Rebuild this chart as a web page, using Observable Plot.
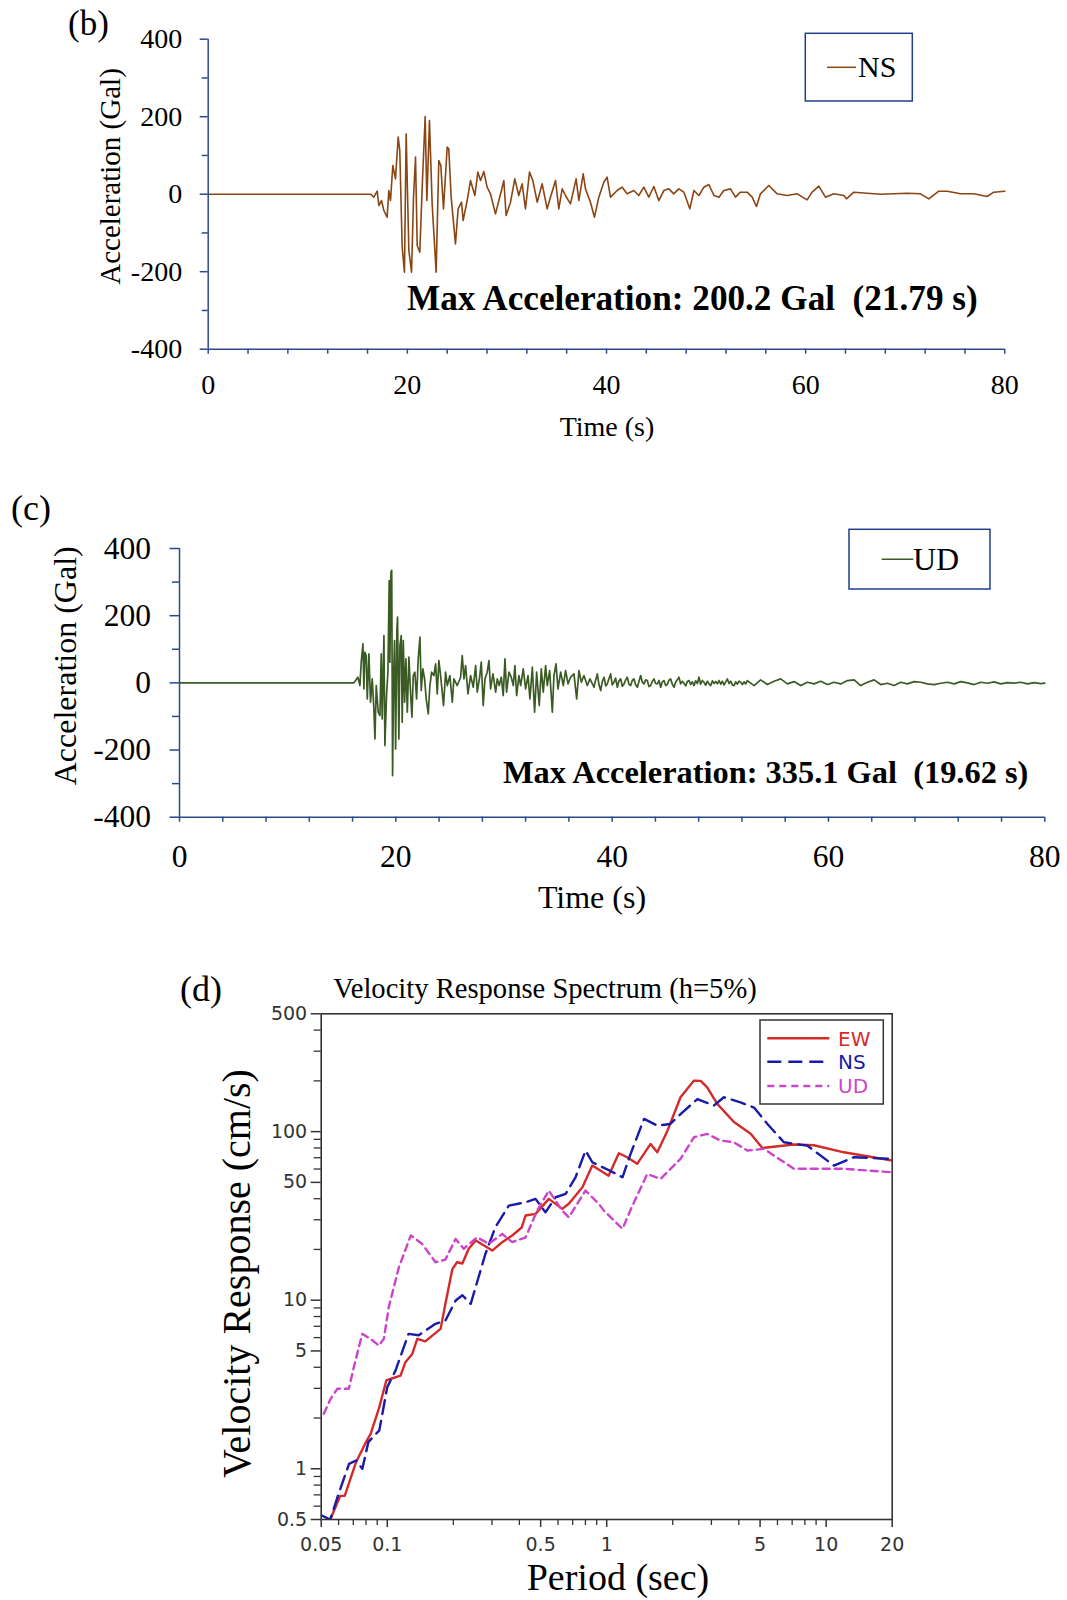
<!DOCTYPE html>
<html><head><meta charset="utf-8">
<script src="https://cdn.jsdelivr.net/npm/d3@7"></script>
<script src="https://cdn.jsdelivr.net/npm/@observablehq/plot@0.6"></script>
<style>
body{margin:0;background:#fff;}
#root{position:relative;width:1067px;height:1600px;overflow:hidden;background:#fff;}
#root svg{position:absolute;left:0;}
</style></head><body><div id="root"></div>
<script>
// ---------------- DATA ----------------
// (b) NS acceleration record
const nsTime = [0,16.30,16.63,16.97,17.14,17.40,17.64,17.97,18.14,18.31,18.54,18.81,19.08,19.24,19.48,19.71,19.88,20.15,20.42,20.62,20.82,20.99,21.25,21.49,21.79,21.96,22.22,22.49,22.89,23.16,23.36,23.63,24.00,24.16,24.40,24.83,25.10,25.44,25.60,26.01,26.34,26.78,27.08,27.35,27.68,28.01,28.35,28.85,29.45,29.69,29.92,30.36,30.79,31.19,31.53,31.86,32.27,32.60,33.04,33.54,34.04,34.37,34.88,35.21,35.55,35.88,36.38,36.95,37.22,37.66,37.89,38.39,38.79,39.23,39.73,40.06,40.40,41.07,41.57,42.07,42.74,43.24,43.75,44.25,44.75,45.25,45.76,46.26,46.76,47.26,47.77,48.37,48.78,49.28,49.78,50.28,50.79,51.29,51.79,52.45,52.95,53.45,54.12,54.63,55.06,55.46,56.30,57.14,58.14,59.15,60.15,60.65,61.32,61.99,62.83,63.83,64.10,64.84,66.18,67.51,68.85,70.19,71.53,72.37,73.37,74.21,75.55,76.89,78.22,78.89,80.00];
const nsAcc = [0,0,-7.7,7.8,-29.2,-16.3,-42.1,-59.3,9.5,-16.3,74.1,39.7,147.2,112.8,-136.7,-201.2,155.8,-145.3,-201.2,-7.7,95.6,-132.4,-149.6,18.1,200.2,-16.3,190.2,-24.9,-201.2,87.0,74.1,-37.8,121.4,117.1,-7.7,-128.1,-37.8,-20.6,-67.9,-16.3,35.4,-3.4,56.9,35.4,58.6,18.1,1.0,-50.7,9.5,35.4,-55.0,-20.6,39.7,-3.4,26.8,-37.8,56.9,35.4,-20.6,26.8,-37.8,-7.7,35.4,-37.8,13.8,-3.4,-24.9,39.7,-16.3,52.6,13.8,-20.6,-59.3,-7.7,31.0,44.0,-7.7,9.5,18.1,1.0,9.5,-3.4,18.1,-7.7,19.9,-16.3,9.5,13.8,1.0,13.8,5.2,-37.8,9.5,-3.4,18.1,25.0,-3.4,-7.7,9.5,13.8,-7.7,5.2,5.2,-7.7,-31.7,1.0,22.5,1.0,-3.4,1.0,-14.5,5.2,20.7,-7.7,1.0,-3.4,-12.0,5.2,2.6,-0.2,1.0,2.6,1.0,-12.0,7.8,7.8,1.0,1.0,-5.9,5.2,7.8];

// (c) UD acceleration record
const udTime = [0,16.12,16.28,16.49,16.68,16.80,16.96,17.05,17.14,17.26,17.36,17.51,17.66,17.82,17.97,18.07,18.19,18.37,18.53,18.65,18.74,18.90,18.99,19.14,19.27,19.39,19.45,19.55,19.62,19.70,19.79,19.88,19.98,20.10,20.16,20.28,20.38,20.50,20.59,20.69,20.81,20.93,21.06,21.21,21.36,21.49,21.61,21.76,21.92,22.07,22.23,22.35,22.50,22.66,22.81,23.00,23.15,23.31,23.52,23.68,23.83,23.98,24.14,24.41,24.60,24.76,25.00,25.22,25.37,25.68,25.99,26.14,26.30,26.45,26.67,26.91,27.16,27.38,27.53,27.75,27.90,28.08,28.24,28.45,28.61,28.76,28.98,29.23,29.38,29.56,29.75,29.93,30.09,30.24,30.46,30.67,30.86,31.01,31.17,31.38,31.54,31.78,32.00,32.22,32.40,32.62,32.83,33.02,33.26,33.45,33.63,33.85,34.00,34.22,34.47,34.62,34.81,34.99,35.24,35.48,35.70,35.92,36.16,36.47,36.72,36.93,37.15,37.39,37.70,37.95,
  38.32,38.47,38.63,38.78,38.94,39.09,39.25,39.40,39.55,39.70,39.86,40.01,40.17,40.32,40.48,40.63,40.79,40.94,41.10,41.25,41.40,41.55,41.71,41.86,42.02,42.17,42.33,42.48,42.64,42.79,42.94,43.10,43.25,43.40,43.56,43.71,43.87,44.02,44.18,44.33,44.49,44.64,44.79,44.95,45.10,45.25,45.41,45.56,45.72,45.87,46.03,46.18,46.33,46.49,46.64,46.80,46.95,47.11,47.26,47.41,47.57,47.72,47.88,48.03,48.18,48.34,48.49,48.65,48.80,48.96,49.11,49.27,49.42,49.58,49.73,49.88,50.04,50.19,50.34,50.50,50.65,50.81,50.96,51.12,51.27,51.42,51.58,51.73,51.88,52.04,52.19,52.35,52.50,
  53.12,53.73,54.35,54.97,55.58,56.20,56.82,57.43,58.05,58.67,59.28,59.90,60.52,61.13,61.75,62.37,62.98,63.60,64.22,64.83,65.45,66.07,66.68,67.30,67.92,68.53,69.15,69.77,70.38,71.00,71.62,72.23,72.85,73.46,74.08,74.70,75.31,75.93,76.55,77.16,77.78,78.40,79.01,79.63,80.00];
const udAcc = [0,0,6.9,16.8,-8.0,61.5,116.0,-18.0,91.2,81.3,-47.7,86.3,-57.7,11.8,-77.5,-166.9,-8.0,-87.4,-97.4,86.3,-107.3,140.9,-186.7,-37.8,31.7,304.7,61.5,329.5,335.1,-276.0,11.8,126.0,-196.6,160.7,195.5,-166.9,111.1,140.9,-117.2,126.0,-57.7,71.4,-87.4,76.4,-27.9,-102.3,21.7,31.7,-47.7,71.4,135.9,-22.9,41.6,11.8,-47.7,-92.4,-8.0,31.7,21.7,56.5,-32.8,66.4,21.7,-67.6,31.7,-8.0,21.7,-57.7,11.8,-8.0,16.8,81.3,11.8,51.5,-32.8,21.7,-13.0,51.5,-27.9,16.8,61.5,-67.6,11.8,31.7,66.4,-18.0,26.7,-27.9,11.8,-8.0,16.8,-37.8,71.4,-27.9,31.7,16.8,-8.0,51.5,-37.8,21.7,-8.0,41.6,-18.0,21.7,-47.7,46.6,-87.4,31.7,-67.6,41.6,-27.9,51.5,-8.0,36.6,-87.4,21.7,56.5,-18.0,31.7,-8.0,36.6,-3.1,16.8,26.7,-47.7,36.6,1.9,21.7,-8.0,11.8,
  -13.1,8,26.6,-5,-23.0,4,16.7,-9,-3.1,12,26.6,-6,1.8,14,-13.1,6,11.7,-10,-3.1,9,16.7,-4,-8.1,7,11.7,-6,-13.1,4,21.7,2,-3.1,9,6.8,-11,-8.1,5,11.7,-2,-3.1,7,-13.1,3,6.8,-8,-5.1,8,11.7,-4,-13.1,2,9,16.7,-3,5,-1.1,-9,4,6.8,-5,3,-8.1,6,-2,16.7,-4,7,1.8,-7,5,-3,-8.1,6,-2,4,-3.1,7,-4,4.8,-6,3,11.7,-2,5,-6,-8.1,3,-4,5,1.8,-5,3,-3,6.8,
  -8.1,8.8,-5.1,4.8,11.8,-3.1,3.8,-8.1,1.8,-3.1,4.8,-5.1,1.8,-3.1,6.8,8.8,-8.1,1.8,8.8,-5.1,-1.1,-8.1,1.8,-3.1,3.8,1.8,-3.1,-5.1,-1.1,1.8,-3.1,3.8,-0.2,-5.1,1.8,-1.1,2.8,-3.1,0.9,-1.1,1.8,-3.1,0.9,-2.1,-1.0];

// (d) velocity response spectra (h=5%)
const ewPeriod = [0.055,0.061,0.064,0.072,0.080,0.084,0.092,0.099,0.104,0.115,0.121,0.130,0.137,0.149,0.175,0.184,0.198,0.208,0.220,0.235,0.253,0.301,0.334,0.371,0.410,0.427,0.474,0.545,0.627,0.672,0.775,0.860,1.020,1.136,1.240,1.377,1.585,1.700,1.890,2.170,2.500,2.680,2.870,3.190,3.800,4.530,5.120,7.130,8.790,12.05,20];
const ewVel = [0.50,0.69,0.69,1.09,1.44,1.61,2.32,3.34,3.42,3.57,4.29,4.80,5.90,5.70,6.76,9.5,15.3,16.8,16.5,20.2,22.6,19.7,22.1,24.2,27.0,31.8,32.5,39.9,34.8,37.3,46.8,62.9,54.8,74.4,70.5,64.4,84.5,75.4,101,160,200.8,200,183,146,114,97,80,83.8,83,75.4,67.4];
const nsPeriod = [0.050,0.055,0.060,0.067,0.072,0.077,0.082,0.092,0.100,0.109,0.125,0.139,0.166,0.184,0.205,0.220,0.240,0.280,0.311,0.358,0.427,0.474,0.526,0.585,0.650,0.721,0.801,0.860,1.030,1.180,1.285,1.480,1.700,1.950,2.170,2.590,3.080,3.420,4.070,4.690,5.400,6.420,8.200,10.85,13.40,20];
const nsVel = [0.53,0.50,0.71,1.07,1.12,1.00,1.44,1.69,3.05,3.82,6.31,6.2,7.24,7.57,9.95,10.7,9.5,18.8,27.1,36.4,38.1,39.9,33.2,40.8,42.7,53.6,77.2,65.8,58.8,53.6,73.8,119,108.6,111,127,156,142.7,160,149,139,111,86.5,82.6,62.9,70.5,68.9];
const udPeriod = [0.0514,0.0552,0.0592,0.0668,0.0704,0.0769,0.0839,0.0915,0.0965,0.1016,0.113,0.128,0.144,0.166,0.184,0.205,0.223,0.257,0.290,0.334,0.371,0.427,0.482,0.545,0.627,0.672,0.800,0.920,0.971,1.180,1.300,1.530,1.760,2.170,2.500,2.870,3.300,3.800,4.370,5.200,7.130,12.05,20];
const udVel = [2.12,2.6,2.98,2.98,4.0,6.31,5.9,5.38,5.9,9.1,15.7,24.2,21.6,16.8,17.4,23.1,20.2,23.6,21.6,24.7,22.1,23.6,34.0,44.7,34.0,31.0,44.7,37.3,34.0,26.5,35.6,56,52.4,68.9,92.6,97,88.5,86.5,77.2,79,60.2,60.2,57.4];

// tick values and labels
const accTicksMajor = [-400,-200,0,200,400];
const accTicksMinor = [-300,-100,100,300];
const timeTicksMajor = [0,20,40,60,80];
const timeTicksMinor = [0,4,8,12,16,20,24,28,32,36,40,44,48,52,56,60,64,68,72,76,80];
const periodTicksMajor = [0.05,0.1,0.5,1,5,10,20];
const periodTicksMinor = [0.06,0.07,0.08,0.09,0.2,0.3,0.4,0.6,0.7,0.8,0.9,2,3,4,6,7,8,9];
const velTicksMajor = [0.5,1,5,10,50,100,500];
const velTicksMinor = [0.6,0.7,0.8,0.9,2,3,4,6,7,8,9,20,30,40,60,70,80,90,200,300,400];
const spectrumSeries = ["EW","NS","UD"];

// ---------------- STYLE ----------------
const serif = "'Liberation Serif','Times New Roman',serif";
const sans = "'DejaVu Sans',Arial,sans-serif";
const axisBlue = "#2b4a8e";
const nsColor = "#8b4513";
const udColor = "#3b5b24";
const specColors = {EW:"#d42a2a", NS:"#1a1aa8", UD:"#cc44cc"};
const specDash = {EW:null, NS:"14,7", UD:"7,5"};

const root = document.getElementById("root");
const fmt = d => String(d);

function accelPlot(data, color, o) {
  const svg = Plot.plot({
    width: 1067, height: o.height,
    marginLeft: o.left, marginRight: 1067 - o.right, marginTop: o.top, marginBottom: o.height - o.bottom,
    x: {domain: [0, 80], label: null},
    y: {domain: [-400, 400], label: null},
    style: {fontFamily: serif, fontSize: o.font + "px", color: "#000", background: "transparent", overflow: "visible"},
    marks: [
      Plot.line(data, {x: "t", y: "a", stroke: color, strokeWidth: o.lw}),
      Plot.ruleX([0], {stroke: axisBlue, strokeWidth: 1.5}),
      Plot.ruleY([-400], {stroke: axisBlue, strokeWidth: 1.5}),
      Plot.axisY(accTicksMajor, {tickSize: o.major, tickPadding: o.yPad, stroke: axisBlue, strokeWidth: 1.5, tickFormat: fmt, label: null, fill: "#000"}),
      Plot.axisY(accTicksMinor, {tickSize: o.minor, stroke: axisBlue, strokeWidth: 1.5, fill: "none", label: null}),
      Plot.axisX(timeTicksMinor, {tickSize: 5, stroke: axisBlue, strokeWidth: 1.5, fill: "none", label: null}),
      Plot.text(timeTicksMajor, {x: d => d, text: fmt, frameAnchor: "bottom", dy: o.xPad, lineAnchor: "top", fill: "#000"})
    ]
  });
  svg.style.top = o.y0 + "px";
  root.appendChild(svg);
}

accelPlot(nsTime.map((t, i) => ({t, a: nsAcc[i]})), nsColor,
  {y0: 0, height: 450, left: 207.7, right: 1004.3, top: 38.7, bottom: 348.7, font: 28, major: 8, minor: 6, yPad: 18, xPad: 25, lw: 1.6});
accelPlot(udTime.map((t, i) => ({t, a: udAcc[i]})), udColor,
  {y0: 450, height: 470, left: 179, right: 1044.3, top: 98, bottom: 366.7, font: 31.5, major: 9.5, minor: 7, yPad: 19, xPad: 27, lw: 1.7});

// spectrum
const specData = [];
ewPeriod.forEach((T, i) => specData.push({series: "EW", T, V: ewVel[i]}));
nsPeriod.forEach((T, i) => specData.push({series: "NS", T, V: nsVel[i]}));
udPeriod.forEach((T, i) => specData.push({series: "UD", T, V: udVel[i]}));

const spec = Plot.plot({
  width: 1067, height: 680,
  marginLeft: 320.7, marginRight: 1067 - 891.7, marginTop: 93.3, marginBottom: 81,
  x: {type: "log", domain: [0.05, 20], label: null},
  y: {type: "log", domain: [0.5, 500], label: null},
  style: {fontFamily: sans, fontSize: "19px", color: "#333", background: "transparent", overflow: "visible"},
  marks: [
    ...spectrumSeries.map(s => Plot.line(specData.filter(d => d.series === s), {
      x: "T", y: "V", stroke: specColors[s], strokeWidth: 2.4, strokeDasharray: specDash[s], clip: true
    })),
    Plot.frame({stroke: "#333", strokeWidth: 1.6}),
    Plot.axisY(velTicksMajor, {tickSize: 10, tickPadding: 4, stroke: "#333", strokeWidth: 1.5, tickFormat: fmt, label: null, fill: "#333"}),
    Plot.axisY(velTicksMinor, {tickSize: 7, stroke: "#333", strokeWidth: 1.3, fill: "none", label: null}),
    Plot.axisX(periodTicksMajor, {tickSize: 8, stroke: "#333", strokeWidth: 1.5, fill: "none", label: null}),
    Plot.axisX(periodTicksMinor, {tickSize: 6, stroke: "#333", strokeWidth: 1.3, fill: "none", label: null}),
    Plot.text(periodTicksMajor, {x: d => d, text: fmt, frameAnchor: "bottom", dy: 18, lineAnchor: "top", fill: "#333"})
  ]
});
spec.style.top = "920px";
root.appendChild(spec);

// ---------------- ANNOTATION OVERLAY ----------------
const ov = d3.create("svg").attr("width", 1067).attr("height", 1600)
  .style("top", "0px").style("pointer-events", "none");
function txt(x, y, s, o = {}) {
  return ov.append("text").attr("x", x).attr("y", y).text(s)
    .attr("font-family", o.family || serif).attr("font-size", o.size || 28)
    .attr("font-weight", o.weight || "normal").attr("fill", o.fill || "#000")
    .attr("text-anchor", o.anchor || "start").attr("xml:space", "preserve").style("white-space", "pre");
}
function vtxt(cx, cy, s, size) {
  ov.append("text").attr("transform", `translate(${cx},${cy}) rotate(-90)`)
    .attr("text-anchor", "middle").attr("dominant-baseline", "central")
    .attr("font-family", serif).attr("font-size", size).attr("fill", "#000").text(s);
}
function legendBox(x, y, w, h, stroke) {
  ov.append("rect").attr("x", x).attr("y", y).attr("width", w).attr("height", h)
    .attr("fill", "#fff").attr("stroke", stroke).attr("stroke-width", 1.5);
}
function legendLine(x1, x2, y, color, width, dash) {
  ov.append("line").attr("x1", x1).attr("x2", x2).attr("y1", y).attr("y2", y)
    .attr("stroke", color).attr("stroke-width", width).attr("stroke-dasharray", dash || null);
}

// panel (b)
txt(68, 35, "(b)", {size: 35});
vtxt(110, 176.5, "Acceleration (Gal)", 29);
txt(607, 436, "Time (s)", {size: 28, anchor: "middle"});
txt(407, 310, "Max Acceleration: 200.2 Gal  (21.79 s)", {size: 35.2, weight: "bold"});
legendBox(805.3, 33.3, 107, 67.7, "#1f3f8a");
legendLine(827, 856, 67.3, nsColor, 1.5);
txt(858, 77, "NS", {size: 30});

// panel (c)
txt(11, 520, "(c)", {size: 36});
vtxt(65, 665.8, "Acceleration (Gal)", 32);
txt(592, 908, "Time (s)", {size: 32, anchor: "middle"});
txt(503, 783, "Max Acceleration: 335.1 Gal  (19.62 s)", {size: 32.4, weight: "bold"});
legendBox(849, 529.3, 141, 59.7, "#1f3f8a");
legendLine(881.7, 913.3, 559.3, udColor, 1.5);
txt(913, 570, "UD", {size: 32});

// panel (d)
txt(180, 1001, "(d)", {size: 36});
txt(545, 998, "Velocity Response Spectrum (h=5%)", {size: 28.6, anchor: "middle"});
vtxt(236, 1273.5, "Velocity Response (cm/s)", 40);
txt(618, 1590, "Period (sec)", {size: 38, anchor: "middle"});
legendBox(760, 1020, 123.3, 84, "#333");
const legY = {EW: 1038.3, NS: 1061.7, UD: 1086};
spectrumSeries.forEach(s => {
  legendLine(767.3, 829.3, legY[s], specColors[s], 2.4, specDash[s]);
  txt(838, legY[s] + 7.2, s, {size: 20, family: sans, fill: specColors[s]});
});

root.appendChild(ov.node());
</script>
</body></html>
